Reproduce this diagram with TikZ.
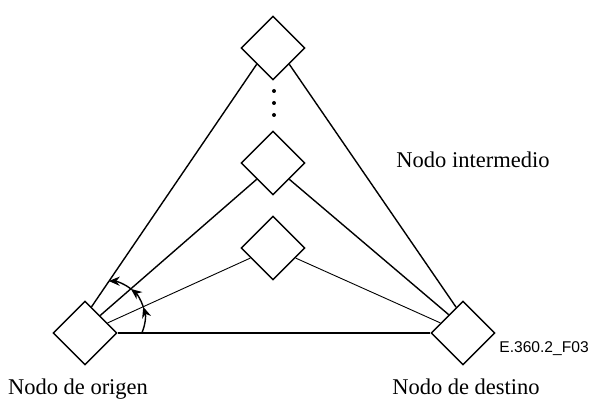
\documentclass[tikz,border=0pt]{standalone}
\usepackage{fontspec}
\setmainfont{Liberation Serif}
\newfontfamily\figfont{Liberation Sans}
\usetikzlibrary{arrows.meta}
\usetikzlibrary{shapes.geometric}

\begin{document}
\begin{tikzpicture}[x=0.5pt,y=0.5pt,
  nodebox/.style={draw, diamond, aspect=1, minimum size=32pt, inner sep=0pt, line width=0.7pt},
  link/.style={line width=0.7pt},
  thinlink/.style={line width=0.45pt},
  turn/.style={line width=0.7pt, -{Stealth[length=5.5pt,width=4.6pt]}},
  caption/.style={font=\fontsize{11.25}{13}\selectfont, anchor=base}]
  \useasboundingbox (0,0) rectangle (591,399);
  \node[nodebox] (Origin) at (85,66) {};
  \node[nodebox] (Dest)   at (463,66) {};
  \node[nodebox] (Top)    at (273,351) {};
  \node[nodebox] (Mid)    at (273,236) {};
  \node[nodebox] (Low)    at (273,151) {};
  \foreach \y in {308,296,284} \fill (274,\y) circle (2);
  \draw[link] (Origin.east) -- (Dest.west);
  \draw[link] (Origin.76) -- (Top.south west);
  \draw[link] (Origin.49) -- (Mid.south west);
  \draw[thinlink] (Origin.24) -- (Low.204);
  \draw[link] (Top.south east) -- (Dest.105);
  \draw[link] (Mid.south east) -- (Dest.128);
  \draw[thinlink] (Low.336) -- (Dest.156);
  \coordinate (Pivot) at (108,81);
  \draw[turn] ([shift={(-24:37)}]Pivot) arc[start angle=-24, end angle=17.6, radius=37];
  \draw[turn] ([shift={(17.6:37)}]Pivot) arc[start angle=17.6, end angle=51.8, radius=37];
  \draw[turn] ([shift={(51.8:37)}]Pivot) arc[start angle=51.8, end angle=88.8, radius=37];
  \node[caption] (OriginText) at (78,4) {Nodo de origen};
  \node[caption] (DestText)   at (466,4) {Nodo de destino};
  \node[caption] (MidText)    at (473,231) {Nodo intermedio};
  \node[anchor=base west, inner sep=0pt, font=\figfont\fontsize{7.8}{10}\selectfont] (FigId) at (499,46) {E.360.2\_F03};
\end{tikzpicture}
\end{document}
